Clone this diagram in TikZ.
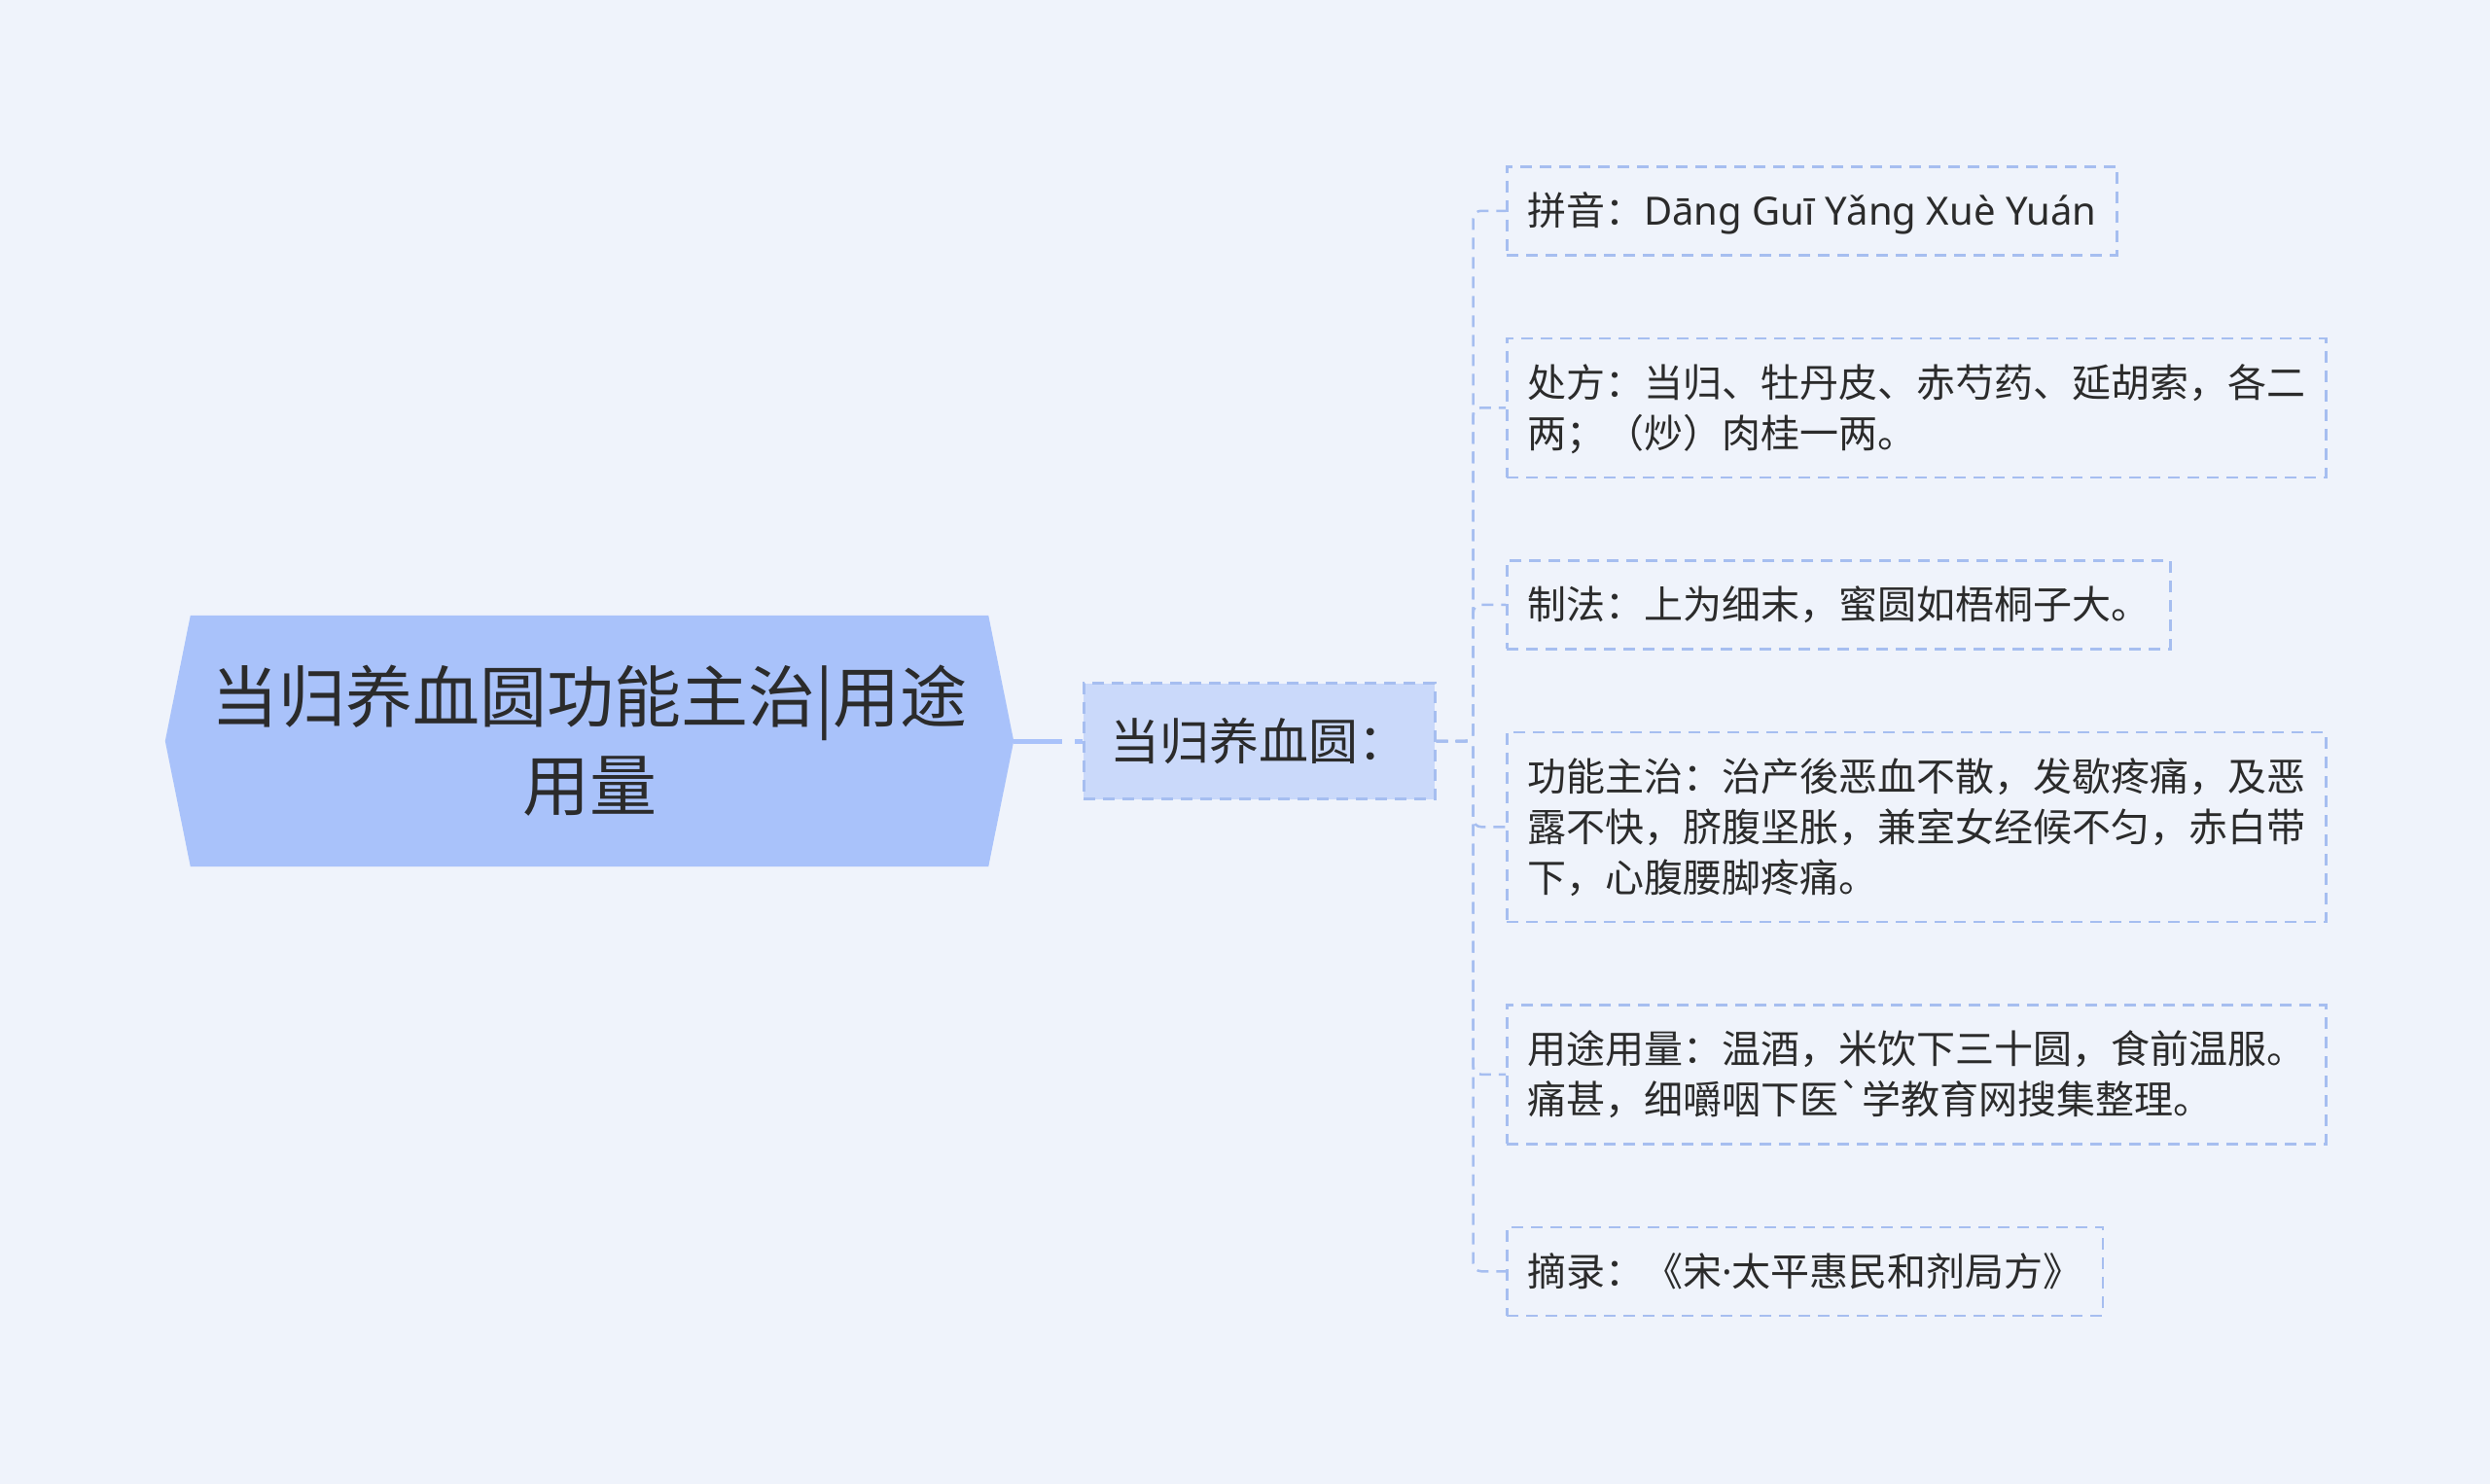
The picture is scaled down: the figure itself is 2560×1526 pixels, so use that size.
\documentclass[tikz,border=0pt]{standalone}
\usepackage{fontspec}
\setmainfont{Noto Sans CJK SC}
\newfontfamily\latinfont{Noto Sans}
\usetikzlibrary{positioning, backgrounds}
\definecolor{bgcol}{HTML}{EFF3FB}
\definecolor{rootcol}{HTML}{A9C2FA}
\definecolor{midcol}{HTML}{CAD9FA}
\definecolor{linecol}{HTML}{A6BEF0}
\definecolor{textcol}{HTML}{2B2B2B}
\newcommand{\lstrut}{\vrule height 41pt depth 11pt width 0pt}
\tikzset{
    root/.style={rectangle, inner xsep=0pt, minimum width=820pt, minimum height=258pt, align=center, text=textcol, font=\fontsize{69}{91}\selectfont},
    mid/.style={rectangle, draw=linecol, fill=midcol, line width=2.5pt, dash pattern=on 12pt off 8pt, minimum width=361pt, minimum height=119pt, text=textcol, font=\fontsize{51}{60}\selectfont},
    leaf/.style={rectangle, draw=linecol, line width=2.5pt, dash pattern=on 12pt off 8pt, align=left, inner xsep=21pt, inner ysep=19.5pt, text=textcol, font=\fontsize{40}{52}\selectfont},
    link/.style={draw=rootcol, line width=5pt, dash pattern=on 50pt off 13pt},
    branch/.style={draw=linecol, line width=2.5pt, dash pattern=on 12pt off 8pt, rounded corners=8pt},
}
\begin{document}
\begin{tikzpicture}[x=1pt, y=-1pt]
    \useasboundingbox (0,0) rectangle (2560,1526);
    \node [root] (title) at (606,762) {当归养血圆功能主治|用途\\用量};
    \coordinate (roottip) at ([xshift=26pt]title.east);
    \coordinate (rootback) at ([xshift=-26pt]title.west);
    \node [mid] (drug) [right=71pt of roottip] {当归养血圆：};
    \coordinate [right=38pt of drug] (fork);
    \node [leaf, anchor=north west] (pinyin) at (1548,170) {\lstrut 拼音：{\latinfont Dāng Guī Yǎng Xuè Yuán}};
    \node [leaf] (chufang) [below right=83pt and 0pt of pinyin.south west] {\lstrut 处方：当归、牡丹皮、赤芍药、延胡索，各二\\\lstrut 两；（炒）肉桂一两。};
    \node [leaf] (zhifa) [below right=83pt and 0pt of chufang.south west] {\lstrut 制法：上为细末，蜜圆如梧桐子大。};
    \node [leaf] (gongneng) [below right=83pt and 0pt of zhifa.south west] {\lstrut 功能主治：治产後恶血不散，发歇疼痛，及恶\\\lstrut 露不快，脐腹坚胀，兼室女经候不匀，赤白带\\\lstrut 下，心腹腰脚疼痛。};
    \node [leaf] (yongliang) [below right=83pt and 0pt of gongneng.south west] {\lstrut 用途用量：温酒，米饮下三十圆，食前温服。\\\lstrut 痛甚，细嚼咽下医\textasciigrave 学教育网搜集整理。};
    \node [leaf] (zhailu) [below right=83pt and 0pt of yongliang.south west] {\lstrut 摘录：《宋{\latinfont ·}太平惠民和剂局方》};
    \draw [link] (roottip) -- (drug.west);
    \foreach \n in {pinyin, chufang, zhifa, gongneng, yongliang, zhailu}
        \draw [branch] (drug.east) -- (fork) |- (\n.west);
    \begin{scope}[on background layer]
        \fill [bgcol] (0,0) rectangle (2560,1526);
        \fill [rootcol] (title.north west) -- (title.north east) -- (roottip)
            -- (title.south east) -- (title.south west) -- (rootback) -- cycle;
    \end{scope}
\end{tikzpicture}
\end{document}
